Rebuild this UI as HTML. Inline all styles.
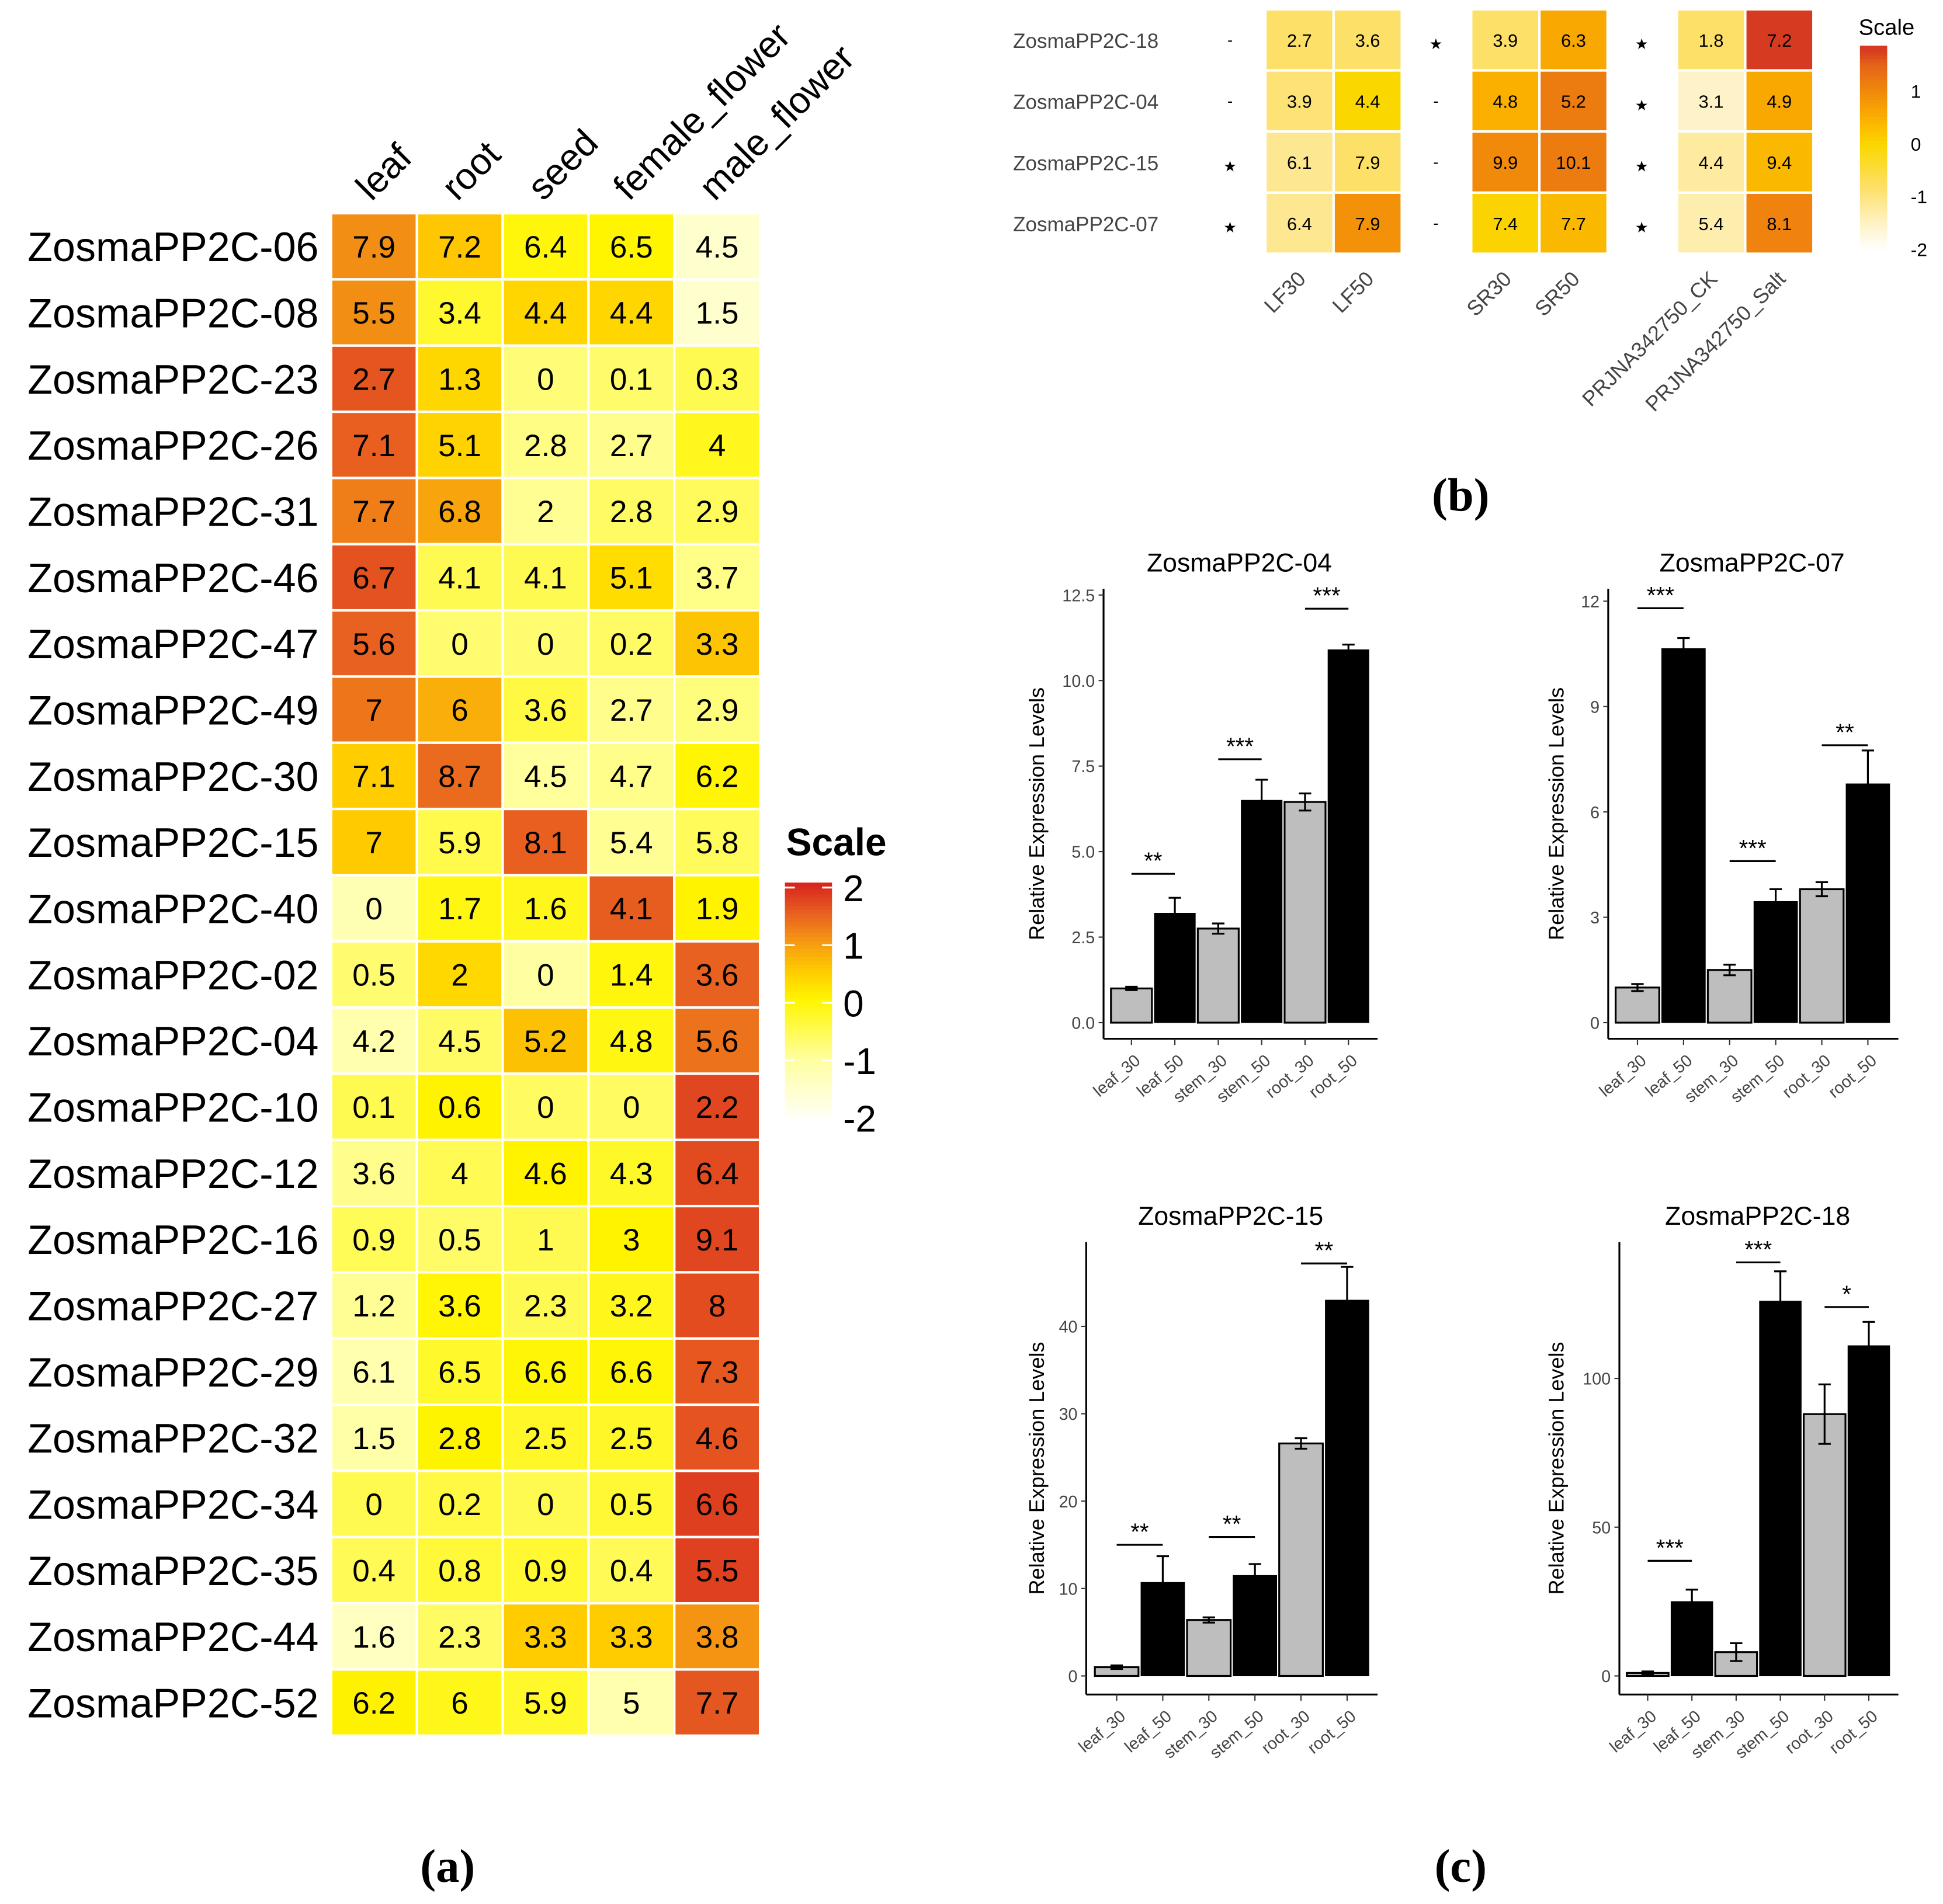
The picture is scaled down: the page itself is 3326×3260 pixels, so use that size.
<!DOCTYPE html>
<html><head><meta charset="utf-8">
<style>
html,body{margin:0;padding:0;background:#fff;}
svg{display:block;}
text{font-family:"Liberation Sans",sans-serif;}
</style></head>
<body>
<svg id="fig" xmlns="http://www.w3.org/2000/svg" width="3326" height="3260" viewBox="0 0 1567 1536" preserveAspectRatio="none">
<rect width="1567" height="1536" fill="#fff"/>
<g id="pa"></g>
<g id="pb"></g>
<g id="pc"></g>
<text x="361" y="1518" font-size="38" font-weight="bold" text-anchor="middle" style="font-family:'Liberation Serif',serif">(a)</text>
<text x="1178" y="412" font-size="38" font-weight="bold" text-anchor="middle" style="font-family:'Liberation Serif',serif">(b)</text>
<text x="1178" y="1518" font-size="38" font-weight="bold" text-anchor="middle" style="font-family:'Liberation Serif',serif">(c)</text>
</svg>
<script>
// ---------- Panel A data ----------
const aGenes = ["ZosmaPP2C-06","ZosmaPP2C-08","ZosmaPP2C-23","ZosmaPP2C-26","ZosmaPP2C-31","ZosmaPP2C-46","ZosmaPP2C-47","ZosmaPP2C-49","ZosmaPP2C-30","ZosmaPP2C-15","ZosmaPP2C-40","ZosmaPP2C-02","ZosmaPP2C-04","ZosmaPP2C-10","ZosmaPP2C-12","ZosmaPP2C-16","ZosmaPP2C-27","ZosmaPP2C-29","ZosmaPP2C-32","ZosmaPP2C-34","ZosmaPP2C-35","ZosmaPP2C-44","ZosmaPP2C-52"];
const aTissues = ["leaf","root","seed","female_flower","male_flower"];
const aValues = [
[7.9,7.2,6.4,6.5,4.5],[5.5,3.4,4.4,4.4,1.5],[2.7,1.3,0,0.1,0.3],[7.1,5.1,2.8,2.7,4],
[7.7,6.8,2,2.8,2.9],[6.7,4.1,4.1,5.1,3.7],[5.6,0,0,0.2,3.3],[7,6,3.6,2.7,2.9],
[7.1,8.7,4.5,4.7,6.2],[7,5.9,8.1,5.4,5.8],[0,1.7,1.6,4.1,1.9],[0.5,2,0,1.4,3.6],
[4.2,4.5,5.2,4.8,5.6],[0.1,0.6,0,0,2.2],[3.6,4,4.6,4.3,6.4],[0.9,0.5,1,3,9.1],
[1.2,3.6,2.3,3.2,8],[6.1,6.5,6.6,6.6,7.3],[1.5,2.8,2.5,2.5,4.6],[0,0.2,0,0.5,6.6],
[0.4,0.8,0.9,0.4,5.5],[1.6,2.3,3.3,3.3,3.8],[6.2,6,5.9,5,7.7]];
const aLegendTicks = [2,1,0,-1,-2];

// ---------- Panel B data ----------
const bGenes = ["ZosmaPP2C-18","ZosmaPP2C-04","ZosmaPP2C-15","ZosmaPP2C-07"];
const bConds = ["LF30","LF50","SR30","SR50","PRJNA342750_CK","PRJNA342750_Salt"];
const bValues = [[2.7,3.6,3.9,6.3,1.8,7.2],[3.9,4.4,4.8,5.2,3.1,4.9],[6.1,7.9,9.9,10.1,4.4,9.4],[6.4,7.9,7.4,7.7,5.4,8.1]];
const bScaled = [[-0.8,-0.8,-0.8,0.6,-0.8,1.8],[-0.9,0.0,0.5,1.2,-1.5,0.6],[-1.1,-0.8,1.0,1.2,-1.2,0.4],[-1.1,0.9,0.05,0.4,-1.3,1.1]];
const bSig = [["-","\u2605","\u2605"],["-","-","\u2605"],["\u2605","-","\u2605"],["\u2605","-","\u2605"]];
const bLegendTicks = [1,0,-1,-2];

// ---------- Panel C data ----------
const cCats = ["leaf_30","leaf_50","stem_30","stem_50","root_30","root_50"];
const cTitles = ["ZosmaPP2C-04","ZosmaPP2C-07","ZosmaPP2C-15","ZosmaPP2C-18"];
const c04 = [1.0,3.2,2.75,6.5,6.45,10.9];
const c04err = [0.05,0.45,0.15,0.6,0.25,0.15];
const c07 = [1.0,10.65,1.5,3.45,3.8,6.8];
const c07err = [0.1,0.3,0.15,0.35,0.2,0.95];
const c15 = [1,10.7,6.4,11.5,26.6,43];
const c15err = [0.2,3,0.3,1.3,0.6,3.8];
const c18 = [1,25,8,126,88,111];
const c18err = [0.5,4,3,10,10,8];
const c04ticks = [0,2.5,5,7.5,10,12.5];
const c07ticks = [0,3,6,9,12];
const c15ticks = [0,10,20,30,40];
const c18ticks = [0,50,100];
const c04sig = ["**","***","***"];
const c07sig = ["***","***","**"];
const c15sig = ["**","**","**"];
const c18sig = ["***","***","*"];
const c04sigY = [4.35,7.7,12.1];
const c07sigY = [11.8,4.6,7.9];
const c15sigY = [15,15.9,47.2];
const c18sigY = [38.7,139,124];

const NS="http://www.w3.org/2000/svg";
function mk(tag, attrs, parent, txt){const e=document.createElementNS(NS,tag);for(const k in attrs)e.setAttribute(k,attrs[k]);if(txt!==undefined)e.textContent=txt;parent.appendChild(e);return e;}
function hex2rgb(h){return [parseInt(h.slice(1,3),16),parseInt(h.slice(3,5),16),parseInt(h.slice(5,7),16)];}
function ramp(stops,v){
  if(v<=stops[0][0])return stops[0][1];
  if(v>=stops[stops.length-1][0])return stops[stops.length-1][1];
  for(let i=0;i<stops.length-1;i++){const a=stops[i],b=stops[i+1];if(v>=a[0]&&v<=b[0]){const t=(v-a[0])/(b[0]-a[0]);const ca=hex2rgb(a[1]),cb=hex2rgb(b[1]);return "rgb("+ca.map((c,j)=>Math.round(c+(cb[j]-c)*t)).join(",")+")";}}
}
const aStops=[[-2,"#FFFFF4"],[-1,"#FFFF9C"],[0,"#FFF500"],[0.5,"#FFCC00"],[1,"#F59A10"],[1.5,"#E86020"],[2,"#D7261E"]];
const bStops=[[-2,"#FFFFFF"],[-1.5,"#FEF3C8"],[-0.8,"#FDE068"],[0,"#FBD700"],[0.5,"#FBB000"],[1,"#F18A0A"],[1.5,"#E56518"],[1.8,"#D63A20"]];

// ---------- Panel A ----------
(function(){
  const g=document.getElementById('pa');
  const x0=267,y0=172,cw=69.2,ch=53.4;
  aValues.forEach((row,r)=>{
    const m=row.reduce((s,v)=>s+v,0)/row.length;
    const sd=Math.sqrt(row.reduce((s,v)=>s+(v-m)*(v-m),0)/(row.length-1))||1;
    const lab=mk('text',{x:257,y:y0+ch*r+ch/2+12,'font-size':33,'text-anchor':'end'},g,aGenes[r]);
    
    
    row.forEach((v,c)=>{
      const z=(v-m)/sd;
      const rc=mk('rect',{x:x0+cw*c,y:y0+ch*r,width:cw,height:ch,fill:ramp(aStops,z),stroke:'#fff','stroke-width':2},g);
      
      
      const t=mk('text',{x:x0+cw*c+cw/2,y:y0+ch*r+ch/2+9,'font-size':25,'text-anchor':'middle'},g,String(v));
      
      
    });
  });
  aTissues.forEach((t,c)=>{
    const x=x0+cw*c+cw/2-2,y=163;
    const e=mk('text',{x:x,y:y,'font-size':30,transform:`rotate(-45 ${x} ${y})`},g,t);
    
    
  });
  const lt=mk('text',{x:634,y:690,'font-size':31,'font-weight':'bold'},g,'Scale');
  
  
  const ly=(v)=>716+(2-v)*46.5;
  for(let i=0;i<60;i++){const v=2-4.05*i/60;mk('rect',{x:633,y:ly(2)-4+i*3.15,width:38,height:3.3,fill:ramp(aStops,v)},g);}
  aLegendTicks.forEach(v=>{
    const e=mk('text',{x:680,y:ly(v)+11,'font-size':30},g,String(v));
    
    
    mk('line',{x1:633,x2:641,y1:ly(v),y2:ly(v),stroke:'#fff','stroke-width':1.5},g);
    mk('line',{x1:663,x2:671,y1:ly(v),y2:ly(v),stroke:'#fff','stroke-width':1.5},g);
  });
})();

// ---------- Panel B ----------
(function(){
  const g=document.getElementById('pb');
  const colX=[1021,1076,1187,1242,1353,1408],cw=54,y0=8,ch=49.3;
  const sigX=[992,1158,1324];
  bGenes.forEach((gn,r)=>{
    const cy=y0+ch*r+ch/2;
    const l=mk('text',{x:817,y:cy+6,'font-size':16.5,fill:'#444'},g,gn);
    
    
    bValues[r].forEach((v,c)=>{
      const rc=mk('rect',{x:colX[c],y:y0+ch*r,width:cw,height:ch-1,fill:ramp(bStops,bScaled[r][c]),stroke:'#fff','stroke-width':1},g);
      
      
      const t=mk('text',{x:colX[c]+cw/2,y:cy+5,'font-size':14.5,'text-anchor':'middle'},g,String(v));
      
      
    });
    bSig[r].forEach((s,k)=>{
      const t=mk('text',{x:sigX[k],y:cy+(s==='-'?4:7),'font-size':s==='-'?13:12,'text-anchor':'middle'},g,s==='-'?'-':'\u2605');
      
      
    });
  });
  bConds.forEach((c,i)=>{
    const x=colX[i]+cw/2+6,y=226;
    const t=mk('text',{x:x,y:y,'font-size':17,fill:'#444','text-anchor':'end',transform:`rotate(-45 ${x} ${y})`},g,c);
    
    
  });
  const lt=mk('text',{x:1499,y:28,'font-size':18},g,'Scale');
  
  
  const ly=(v)=>158-(v+1)*42.5;
  for(let i=0;i<60;i++){const v=1.85-3.85*i/60;mk('rect',{x:1500,y:ly(1.85)+i*2.74,width:22,height:2.9,fill:ramp(bStops,v)},g);}
  bLegendTicks.forEach(v=>{
    const e=mk('text',{x:1541,y:ly(v)+6,'font-size':15},g,String(v));
    
    
  });
})();

// ---------- Panel C ----------
function barChart(cfg){
  const g=document.getElementById('pc');
  const cg=mk('g',{},g);
  
  
  const ys=v=>cfg.y0-(v/cfg.tmax)*(cfg.y0-cfg.ytop);
  const bw=(cfg.x1-cfg.x0)/6;
  const t=mk('text',{x:(cfg.axX+cfg.x1)/2+2,y:cfg.titleY,'font-size':21,'text-anchor':'middle'},cg,cfg.title);
  
  
  mk('line',{x1:cfg.axX,x2:cfg.axX,y1:cfg.axTop,y2:cfg.axBot,stroke:'#000','stroke-width':1.5},cg);
  mk('line',{x1:cfg.axX,x2:cfg.x1+6,y1:cfg.axBot,y2:cfg.axBot,stroke:'#000','stroke-width':1.5},cg);
  cfg.ticks.forEach(v=>{
    mk('line',{x1:cfg.axX-4,x2:cfg.axX,y1:ys(v),y2:ys(v),stroke:'#333','stroke-width':1},cg);
    const e=mk('text',{x:cfg.axX-7,y:ys(v)+5,'font-size':13.5,fill:'#444','text-anchor':'end'},cg,cfg.tickFmt(v));
    
    
  });
  const yl=mk('text',{x:cfg.ylX,y:(cfg.axTop+cfg.axBot)/2,'font-size':17,'text-anchor':'middle',transform:`rotate(-90 ${cfg.ylX} ${(cfg.axTop+cfg.axBot)/2})`},cg,'Relative Expression Levels');
  
  
  cfg.vals.forEach((v,i)=>{
    const x=cfg.x0+bw*i+1,w=bw-2,cx=cfg.x0+bw*i+bw/2;
    const gray=i%2===0;
    const r=mk('rect',{x:x,y:ys(v),width:w,height:cfg.y0-ys(v),fill:gray?'#BEBEBE':'#000',stroke:'#000','stroke-width':gray?1.5:0.5},cg);
    
    
    const e=cfg.errs[i];
    mk('line',{x1:cx,x2:cx,y1:ys(v+e),y2:ys(v-e),stroke:'#000','stroke-width':1.5},cg);
    mk('line',{x1:cx-5,x2:cx+5,y1:ys(v+e),y2:ys(v+e),stroke:'#000','stroke-width':1.5},cg);
    mk('line',{x1:cx-5,x2:cx+5,y1:ys(v-e),y2:ys(v-e),stroke:'#000','stroke-width':1.5},cg);
    mk('line',{x1:cx,x2:cx,y1:cfg.axBot,y2:cfg.axBot+5,stroke:'#333','stroke-width':1},cg);
    const lx=cx+8,ly=cfg.axBot+19;
    const tl=mk('text',{x:lx,y:ly,'font-size':13.5,fill:'#444','text-anchor':'end',transform:`rotate(-40 ${lx} ${ly})`},cg,cCats[i]);
    
    
  });
  cfg.sig.forEach((s,k)=>{
    const i=k*2;
    const ly=ys(cfg.sigY[k]);
    const xa=cfg.x0+bw*i+bw/2,xb=cfg.x0+bw*(i+1)+bw/2;
    mk('line',{x1:xa,x2:xb,y1:ly,y2:ly,stroke:'#000','stroke-width':1.5},cg);
    const st=mk('text',{x:(xa+xb)/2,y:ly-4,'font-size':19,'text-anchor':'middle'},cg,s);
    
    
  });
}
barChart({title:cTitles[0],vals:c04,errs:c04err,ticks:c04ticks,sig:c04sig,sigY:c04sigY,tmax:12.5,y0:825,ytop:480,axX:890,axTop:475,axBot:838,x0:895,x1:1105,titleY:461,ylX:842,tickFmt:v=>v.toFixed(1)});
barChart({title:cTitles[1],vals:c07,errs:c07err,ticks:c07ticks,sig:c07sig,sigY:c07sigY,tmax:12,y0:825,ytop:485,axX:1297,axTop:475,axBot:838,x0:1302,x1:1525,titleY:461,ylX:1261,tickFmt:v=>String(v)});
barChart({title:cTitles[2],vals:c15,errs:c15err,ticks:c15ticks,sig:c15sig,sigY:c15sigY,tmax:40,y0:1352,ytop:1070,axX:876,axTop:1002,axBot:1367,x0:882,x1:1105,titleY:988,ylX:842,tickFmt:v=>String(v)});
barChart({title:cTitles[3],vals:c18,errs:c18err,ticks:c18ticks,sig:c18sig,sigY:c18sigY,tmax:100,y0:1352,ytop:1112,axX:1306,axTop:1002,axBot:1367,x0:1311,x1:1525,titleY:988,ylX:1261,tickFmt:v=>String(v)});
</script>
</body></html>
